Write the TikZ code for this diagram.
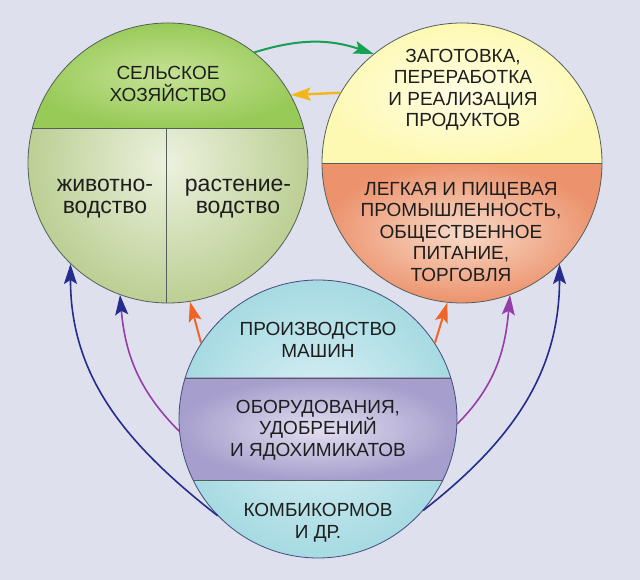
\documentclass[tikz,border=0pt]{standalone}
\usepackage{fontspec}
\setmainfont{Liberation Sans}
\usetikzlibrary{arrows.meta}

\definecolor{bgcol}{RGB}{223,224,238}
\definecolor{ringline}{RGB}{85,95,90}
\definecolor{textcol}{RGB}{30,30,30}
\definecolor{agroTop}{RGB}{152,202,88}
\definecolor{agroTopHi}{RGB}{198,226,150}
\definecolor{agroLow}{RGB}{188,207,148}
\definecolor{agroLowHi}{RGB}{236,241,222}
\definecolor{tradeTop}{RGB}{253,249,178}
\definecolor{tradeTopHi}{RGB}{255,253,228}
\definecolor{tradeLow}{RGB}{236,146,108}
\definecolor{tradeLowHi}{RGB}{248,218,200}
\definecolor{baseOut}{RGB}{166,218,226}
\definecolor{baseOutHi}{RGB}{222,242,246}
\definecolor{baseMid}{RGB}{166,158,204}
\definecolor{baseMidHi}{RGB}{226,222,240}
\definecolor{arrGreen}{RGB}{22,160,82}
\definecolor{arrYellow}{RGB}{242,182,24}
\definecolor{arrOrange}{RGB}{240,100,40}
\definecolor{arrNavy}{RGB}{36,44,140}
\definecolor{arrPurple}{RGB}{150,62,168}

\begin{document}
\begin{tikzpicture}[x=1pt,y=1pt,
    ring/.style={circle, minimum size=280pt, inner sep=0pt, draw=ringline, line width=0.8pt},
    divider/.style={draw=ringline, line width=0.8pt},
    caption/.style={align=center, text=textcol, font=\fontsize{19}{21.5}\selectfont},
    small caption/.style={caption, font=\fontsize{23}{22}\selectfont},
    feed/.style={-{Stealth[length=20pt,width=13pt,inset=4pt]}, line width=1.6pt}]

  \fill[bgcol] (0,0) rectangle (640,580);
  \useasboundingbox (0,0) rectangle (640,580);

  % the three circles
  \node[ring, path picture={
      \coordinate (pp) at (path picture bounding box.center);
      \shade[inner color=agroLowHi, outer color=agroLow] (pp) circle (140);
      \shade[inner color=agroTopHi, outer color=agroTop] ([shift={(-140,35)}]pp) rectangle ([shift={(140,140)}]pp);
      \draw[divider] ([shift={(-140,35)}]pp) -- ([shift={(140,35)}]pp);
      \draw[divider] ([shift={(-2,35)}]pp) -- ([shift={(-2,-140)}]pp);
    }] (agro) at (168,417) {};

  \node[ring, path picture={
      \coordinate (pp) at (path picture bounding box.center);
      \shade[inner color=tradeLowHi, outer color=tradeLow] ([shift={(-140,-140)}]pp) rectangle ([shift={(140,0)}]pp);
      \shade[inner color=tradeTopHi, outer color=tradeTop] ([shift={(-140,0)}]pp) rectangle ([shift={(140,140)}]pp);
      \draw[divider] ([shift={(-140,0)}]pp) -- ([shift={(140,0)}]pp);
    }] (trade) at (462,417) {};

  \node[ring, minimum size=278pt, draw=ringline!80!blue, path picture={
      \coordinate (pp) at (path picture bounding box.center);
      \shade[inner color=baseOutHi, outer color=baseOut] (pp) circle (140);
      \shade[inner color=baseMidHi, outer color=baseMid] ([shift={(-140,-61)}]pp) rectangle ([shift={(140,41)}]pp);
      \draw[divider] ([shift={(-140,41)}]pp) -- ([shift={(140,41)}]pp);
      \draw[divider] ([shift={(-140,-61)}]pp) -- ([shift={(140,-61)}]pp);
    }] (base) at (318,161) {};

  % texts
  \node[caption] (agroTitle) at (168,496) {СЕЛЬСКОЕ\\ХОЗЯЙСТВО};
  \node[small caption] (animal) at (105,381) {животно-\\водство};
  \node[small caption] (plant) at (238,381) {растение-\\водство};

  \node[caption] (tradeTitle) at (463,490) {ЗАГОТОВКА,\\ПЕРЕРАБОТКА\\И РЕАЛИЗАЦИЯ\\ПРОДУКТОВ};
  \node[caption] (industry) at (461,348) {ЛЕГКАЯ И ПИЩЕВАЯ\\ПРОМЫШЛЕННОСТЬ,\\ОБЩЕСТВЕННОЕ\\ПИТАНИЕ,\\ТОРГОВЛЯ};

  \node[caption] (machines) at (318,240) {ПРОИЗВОДСТВО\\МАШИН};
  \node[caption] (equipment) at (318,150) {ОБОРУДОВАНИЯ,\\УДОБРЕНИЙ\\И ЯДОХИМИКАТОВ};
  \node[caption] (fodder) at (318,57) {КОМБИКОРМОВ\\И ДР.};

  % links between the circles
  \draw[feed, arrGreen, line width=2pt] (agro.52) to[bend left=18] (trade.129);
  \draw[feed, arrYellow, line width=2.4pt] (trade.150) -- (agro.29);

  \draw[feed, arrOrange, line width=2pt] (base.147) -- (agro.-81);
  \draw[feed, arrOrange, line width=2pt] (base.33) -- (trade.-96);

  \draw[feed, arrPurple, -{Stealth[length=20pt,width=13pt,inset=4pt,color=arrNavy]}] (base.185) to[out=135,in=-85] (agro.250);
  \draw[feed, arrPurple] (base.-2) to[out=45,in=-95] (trade.-70);

  \draw[feed, arrNavy] (base.224) to[out=142,in=-90] (agro.226);
  \draw[feed, arrNavy] (base.-41) to[out=38,in=-90] (trade.-46);

\end{tikzpicture}
\end{document}
